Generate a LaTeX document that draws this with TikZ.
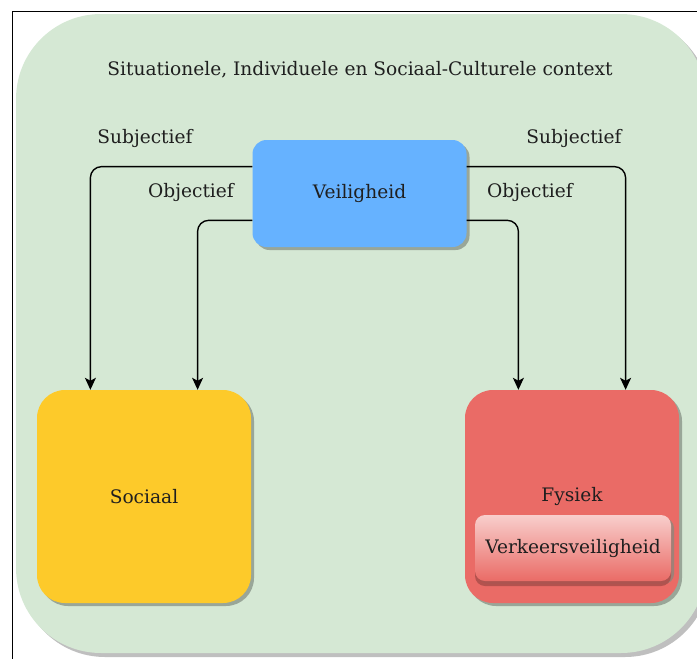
\documentclass[tikz,border=0pt]{standalone}
\usepackage{fontspec}
\setmainfont{DejaVu Serif}
\usetikzlibrary{calc,shadows,arrows.meta}

\definecolor{ctxgreen}{HTML}{D5E8D4}
\definecolor{safeblue}{HTML}{66B2FF}
\definecolor{socyellow}{HTML}{FDCA2A}
\definecolor{fysred}{HTML}{EA6B66}
\definecolor{lightpink}{HTML}{F8CECC}
\definecolor{txtdark}{HTML}{1F1F1F}

\tikzset{
  box/.style={rounded corners=#1, draw=none, text=txtdark, inner sep=0pt,
    drop shadow={shadow xshift=3pt, shadow yshift=-3pt, fill=black!40!ctxgreen, opacity=0.7}},
  lbl/.style={text=txtdark, inner sep=0pt},
  link/.style={draw=black, line width=1.4pt, rounded corners=11pt,
    -{Stealth[length=12pt,width=11pt,inset=3pt]}},
}

\begin{document}
\begin{tikzpicture}[x=1pt, y=-1pt, font=\fontsize{18.6}{22}\selectfont]
\useasboundingbox (0,0) rectangle (697,659);

% outer frame
\draw[line width=1.2pt] (12.5,659) -- (12.5,11.5) -- (697,11.5);

% context area
\fill[black!25, rounded corners=85pt] (20,18) rectangle (710,657);
\fill[ctxgreen, rounded corners=85pt] (16,14) rectangle (706,653);
\node[lbl] (ctx) at (360,70) {Situationele, Individuele en Sociaal-Culturele context};

% main boxes
\node[box=14pt, fill=safeblue, minimum width=214pt, minimum height=107pt] (veil) at (359.5,193.5) {Veiligheid};
\node[box=28pt, fill=socyellow, minimum width=214pt, minimum height=213pt] (soc) at (144,496.5) {Sociaal};
\node[box=28pt, fill=fysred, minimum width=214pt, minimum height=213pt] (fys) at (572,496.5) {Fysiek};
\node[box=10pt, top color=lightpink, bottom color=fysred, minimum width=196pt, minimum height=66pt,
  drop shadow={shadow xshift=0pt, shadow yshift=-5pt, fill=fysred!75!black, opacity=0.9}]
  (verk) at (573,548) {Verkeersveiligheid};

% connection points on the boxes
\coordinate (vl1) at ($(veil.north west)!0.25!(veil.south west)$);
\coordinate (vl2) at ($(veil.north west)!0.75!(veil.south west)$);
\coordinate (vr1) at ($(veil.north east)!0.25!(veil.south east)$);
\coordinate (vr2) at ($(veil.north east)!0.75!(veil.south east)$);
\coordinate (s1) at ($(soc.north west)!0.25!(soc.north east)$);
\coordinate (s2) at ($(soc.north west)!0.75!(soc.north east)$);
\coordinate (f1) at ($(fys.north west)!0.25!(fys.north east)$);
\coordinate (f2) at ($(fys.north west)!0.75!(fys.north east)$);

\draw[link] (vl1) -| (s1);
\draw[link] (vl2) -| (s2);
\draw[link] (vr2) -| (f1);
\draw[link] (vr1) -| (f2);

% connector labels
\node[lbl] (subl) at (145,138) {Subjectief};
\node[lbl] (objl) at (191,192) {Objectief};
\node[lbl] (subr) at (574,138) {Subjectief};
\node[lbl] (objr) at (530,192) {Objectief};
\end{tikzpicture}
\end{document}
